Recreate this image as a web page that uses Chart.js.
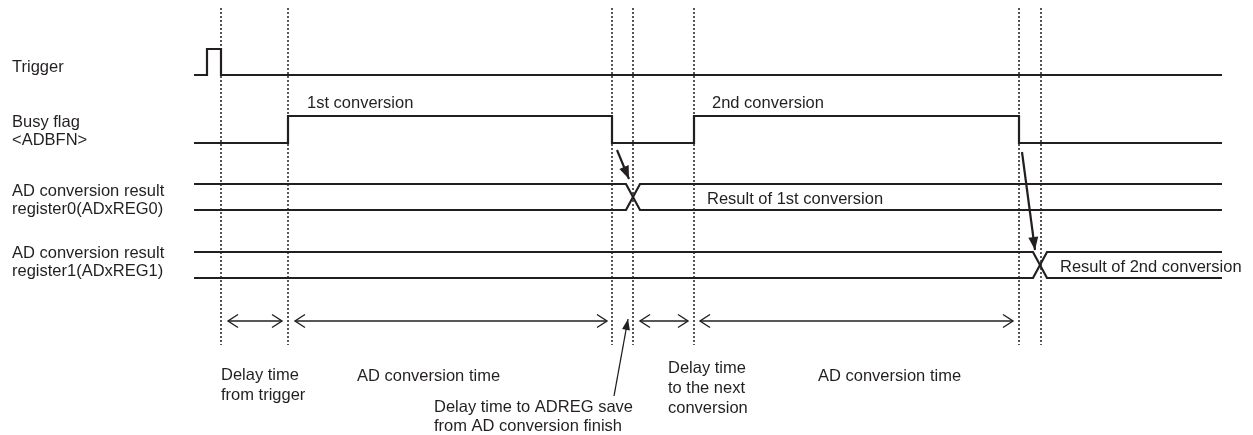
<!DOCTYPE html>
<html>
<head>
<meta charset="utf-8">
<script src="https://cdn.jsdelivr.net/npm/chart.js@4.4.1/dist/chart.umd.min.js"></script>
<style>
    html, body { margin: 0; padding: 0; background: #fff; }
    #wrap { width: 1253px; height: 435px; }
</style>
</head>
<body>
<div id="wrap"><canvas id="timing"></canvas></div>
<script>
// Timing data (time axis in diagram units)
const tStart = 194;
const tEnd = 1222;
const guideTimes = [221, 288, 612, 633, 694, 1019, 1041];
const triggerEdges = [207, 221];
const busyEdges = [288, 612, 694, 1019];
const regSwapTimes = [633, 1040];
const swapHalfWidth = 7;

// Signal lanes: label lines, high level, low level
const laneLabels = [
    ['Trigger'],
    ['Busy flag', '<ADBFN>'],
    ['AD conversion result', 'register0(ADxREG0)'],
    ['AD conversion result', 'register1(ADxREG1)']
];
const laneHigh = [49, 116, 184, 252];
const laneLow = [75, 143, 210, 278];

// Interval markers (start, end) and their captions
const spanTimes = [[228, 282], [295, 607], [640, 688], [700, 1013]];
const spanLabels = [
    ['Delay time', 'from trigger'],
    ['AD conversion time'],
    ['Delay time', 'to the next', 'conversion'],
    ['AD conversion time']
];
const phaseLabels = ['1st conversion', '2nd conversion'];
const resultLabels = ['Result of 1st conversion', 'Result of 2nd conversion'];
const saveLabel = ['Delay time to ADREG save', 'from AD conversion finish'];

const INK = '#231f20';
const FONT = '16.5px "Liberation Sans", Arial, sans-serif';

// build a stepped waveform starting low
function stepWave(edges, hi, lo) {
    const pts = [{ x: tStart, y: lo }];
    let level = lo;
    edges.forEach(t => {
        pts.push({ x: t, y: level });
        level = level === lo ? hi : lo;
        pts.push({ x: t, y: level });
    });
    pts.push({ x: tEnd, y: level });
    return pts;
}

// two crossing bus lines for a register lane
function busWave(swap, hi, lo, startHigh) {
    const a = startHigh ? hi : lo;
    const b = startHigh ? lo : hi;
    return [
        { x: tStart, y: a },
        { x: swap - swapHalfWidth, y: a },
        { x: swap + swapHalfWidth, y: b },
        { x: tEnd, y: b }
    ];
}

const datasets = [];

// dotted guides
guideTimes.forEach(t => {
    datasets.push({
        data: [{ x: t, y: 8 }, { x: t, y: 345 }],
        borderColor: INK,
        borderWidth: 1.5,
        borderDash: [2, 2]
    });
});

// waveforms
datasets.push({ data: stepWave(triggerEdges, laneHigh[0], laneLow[0]), borderColor: INK, borderWidth: 2.2 });
datasets.push({ data: stepWave(busyEdges, laneHigh[1], laneLow[1]), borderColor: INK, borderWidth: 2.2 });
regSwapTimes.forEach((t, i) => {
    datasets.push({ data: busWave(t, laneHigh[2 + i], laneLow[2 + i], true), borderColor: INK, borderWidth: 2.2 });
    datasets.push({ data: busWave(t, laneHigh[2 + i], laneLow[2 + i], false), borderColor: INK, borderWidth: 2.2 });
});

// interval double arrows
spanTimes.forEach(s => {
    datasets.push({ data: [{ x: s[0], y: 321 }, { x: s[1], y: 321 }], borderColor: INK, borderWidth: 1.4, arrows: 'open' });
});

// pointer arrows (busy fall -> register update, caption -> gap)
datasets.push({ data: [{ x: 617, y: 150 }, { x: 629, y: 179 }], borderColor: INK, borderWidth: 2.2, arrows: 'solid' });
datasets.push({ data: [{ x: 1022, y: 152 }, { x: 1035, y: 250 }], borderColor: INK, borderWidth: 2.2, arrows: 'solid' });
datasets.push({ data: [{ x: 614, y: 396 }, { x: 628, y: 319 }], borderColor: INK, borderWidth: 1.3, arrows: 'thin' });

const arrowPlugin = {
    id: 'arrowHeads',
    afterDatasetsDraw(chart) {
        const { ctx, scales: { x, y } } = chart;
        chart.data.datasets.forEach(ds => {
            if (!ds.arrows) return;
            const p0 = { x: x.getPixelForValue(ds.data[0].x), y: y.getPixelForValue(ds.data[0].y) };
            const p1 = { x: x.getPixelForValue(ds.data[1].x), y: y.getPixelForValue(ds.data[1].y) };
            ctx.save();
            ctx.strokeStyle = INK;
            ctx.fillStyle = INK;
            ctx.lineWidth = 1.4;
            if (ds.arrows === 'open') {
                [[p1, p0], [p0, p1]].forEach(([from, tip]) => {
                    const dir = Math.sign(tip.x - from.x);
                    ctx.beginPath();
                    ctx.moveTo(tip.x - dir * 10, tip.y - 6.5);
                    ctx.lineTo(tip.x, tip.y);
                    ctx.lineTo(tip.x - dir * 10, tip.y + 6.5);
                    ctx.stroke();
                });
            } else {
                const ang = Math.atan2(p1.y - p0.y, p1.x - p0.x);
                const len = ds.arrows === 'solid' ? 13 : 11;
                const half = ds.arrows === 'solid' ? 5 : 4;
                ctx.beginPath();
                ctx.moveTo(p1.x, p1.y);
                ctx.lineTo(p1.x - len * Math.cos(ang) + half * Math.sin(ang), p1.y - len * Math.sin(ang) - half * Math.cos(ang));
                ctx.lineTo(p1.x - len * Math.cos(ang) - half * Math.sin(ang), p1.y - len * Math.sin(ang) + half * Math.cos(ang));
                ctx.closePath();
                ctx.fill();
            }
            ctx.restore();
        });
    }
};

const textPlugin = {
    id: 'diagramText',
    afterDraw(chart) {
        const { ctx, scales: { x, y } } = chart;
        const put = (lines, tx, ty, step) => {
            lines.forEach((s, i) => {
                ctx.fillText(s, x.getPixelForValue(tx), y.getPixelForValue(ty + i * (step || 19)));
            });
        };
        ctx.save();
        ctx.font = FONT;
        ctx.fillStyle = INK;
        ctx.textBaseline = 'middle';
        ctx.textAlign = 'left';

        // lane names
        put(laneLabels[0], 12, 67);
        put(laneLabels[1], 12, 122, 18);
        put(laneLabels[2], 12, 191, 18);
        put(laneLabels[3], 12, 253, 18);

        // annotations in the waveform area
        put([phaseLabels[0]], 307, 103);
        put([phaseLabels[1]], 712, 103);
        put([resultLabels[0]], 707, 199);
        put([resultLabels[1]], 1060, 267);

        // interval captions
        put(spanLabels[0], 221, 375, 20);
        put(spanLabels[1], 357, 376);
        put(spanLabels[2], 668, 368, 20);
        put(spanLabels[3], 818, 376);
        put(saveLabel, 434, 407, 19);
        ctx.restore();
    }
};

new Chart(document.getElementById('timing'), {
    type: 'scatter',
    data: { datasets: datasets },
    options: {
        responsive: true,
        maintainAspectRatio: false,
        animation: false,
        showLine: true,
        elements: {
            point: { radius: 0, hoverRadius: 0 },
            line: { tension: 0, borderCapStyle: 'butt', borderJoinStyle: 'miter', fill: false }
        },
        layout: { padding: 0 },
        plugins: {
            legend: { display: false },
            tooltip: { enabled: false }
        },
        scales: {
            x: { type: 'linear', min: 0, max: 1253, display: false },
            y: { type: 'linear', min: 0, max: 435, reverse: true, display: false }
        }
    },
    plugins: [arrowPlugin, textPlugin]
});
</script>
</body>
</html>
